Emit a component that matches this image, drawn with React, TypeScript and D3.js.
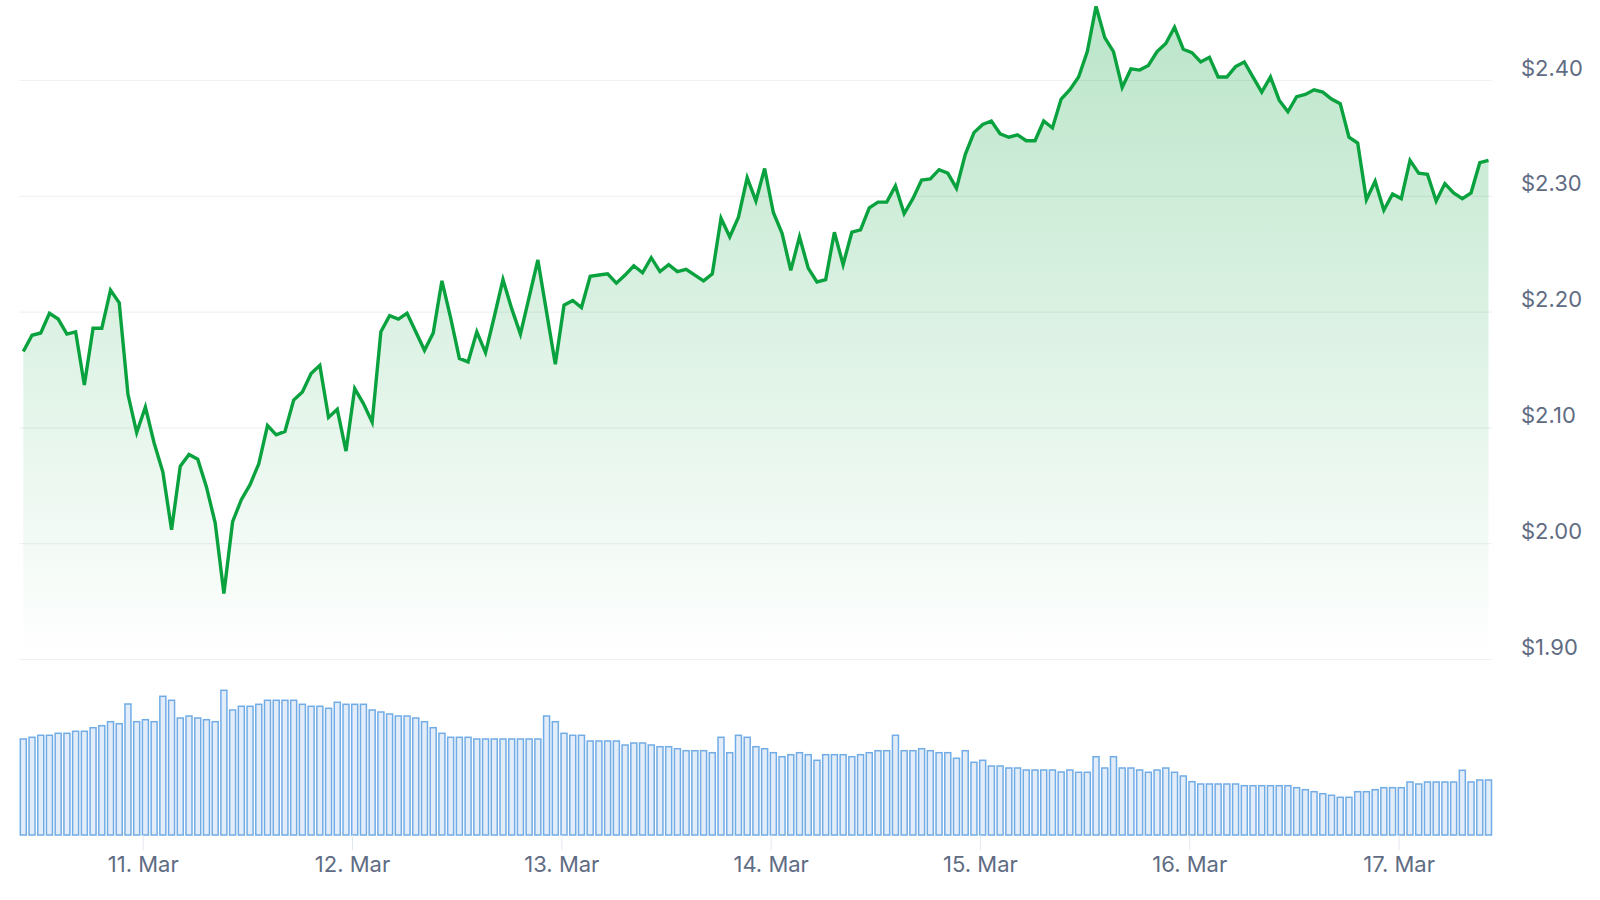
import React from "react";
import * as d3 from "d3";

// Hourly price (USD), starting 10 Mar 10:15 UTC
const prices: number[] = [
  2.166, 2.18, 2.182, 2.199, 2.194, 2.181, 2.183, 2.137, 2.186, 2.186,
  2.219, 2.208, 2.129, 2.096, 2.118, 2.087, 2.062, 2.012, 2.067, 2.077,
  2.073, 2.049, 2.018, 1.957, 2.019, 2.038, 2.051, 2.069, 2.102, 2.094,
  2.097, 2.124, 2.131, 2.147, 2.154, 2.109, 2.116, 2.08, 2.134, 2.121,
  2.105, 2.183, 2.197, 2.194, 2.199, 2.183, 2.167, 2.182, 2.227, 2.195,
  2.16, 2.157, 2.183, 2.165, 2.196, 2.228, 2.203, 2.181, 2.213, 2.245,
  2.2, 2.155, 2.206, 2.21, 2.204, 2.231, 2.232, 2.233, 2.225, 2.232,
  2.24, 2.234, 2.247, 2.235, 2.241, 2.235, 2.237, 2.232, 2.227, 2.233,
  2.281, 2.265, 2.282, 2.316, 2.296, 2.324, 2.286, 2.268, 2.236, 2.265,
  2.238, 2.226, 2.228, 2.269, 2.241, 2.269, 2.271, 2.29, 2.295, 2.295,
  2.309, 2.285, 2.298, 2.314, 2.315, 2.323, 2.32, 2.307, 2.336, 2.355,
  2.362, 2.365, 2.354, 2.351, 2.353, 2.348, 2.348, 2.365, 2.359, 2.384,
  2.392, 2.403, 2.425, 2.464, 2.437, 2.425, 2.394, 2.41, 2.409, 2.413,
  2.425, 2.432, 2.446, 2.427, 2.424, 2.416, 2.42, 2.403, 2.403, 2.412,
  2.416, 2.403, 2.39, 2.403, 2.383, 2.373, 2.386, 2.388, 2.392, 2.39,
  2.384, 2.38, 2.351, 2.346, 2.297, 2.313, 2.288, 2.302, 2.298, 2.331,
  2.32, 2.319, 2.296, 2.311, 2.303, 2.298, 2.303, 2.329, 2.331,
];

// Hourly volume (relative units)
const volumes: number[] = [
  96, 97.7, 99.7, 99.7, 101.7, 101.7, 103.7, 103.7, 107.3, 109.3,
  113.3, 111.3, 131, 113.3, 115.3, 113.3, 138.7, 134.7, 117, 119,
  117, 115.3, 113.3, 144.7, 125, 128.7, 128.7, 130.7, 134.7, 134.7,
  134.7, 134.7, 130.7, 128.7, 128.7, 126.7, 132.7, 130.7, 130.7, 130.7,
  125, 123, 121, 119, 119, 117, 113.3, 107.3, 101.7, 97.7,
  97.7, 97.7, 96, 96, 96, 96, 96, 96, 96, 96,
  119, 113.3, 101.7, 99.7, 99.7, 94, 94, 94, 94, 90,
  92, 92, 90, 88.3, 88.3, 86.3, 84.3, 84.3, 84.3, 82.3,
  97.7, 82.3, 99.7, 97.7, 88.3, 86.3, 82.3, 78.3, 80.3, 82.3,
  80.3, 74.7, 80.3, 80.3, 80.3, 78.3, 80.3, 82.3, 84.3, 84.3,
  99.7, 84.3, 84.3, 86.3, 84.3, 82.3, 82.3, 76.7, 84.3, 72.7,
  74.7, 69, 69, 67, 67, 65, 65, 65, 65, 63,
  65, 62.7, 62.7, 78.3, 67, 78.3, 67, 67, 65, 62.7,
  65, 67, 62.7, 59, 53.3, 51, 51, 51, 51, 51,
  49.3, 49.3, 49.3, 49.3, 49.3, 49.3, 47.3, 45.3, 43.3, 41.3,
  39.7, 37.7, 37.7, 43.3, 43.3, 45.3, 47.3, 47.3, 47.3, 53,
  51, 53, 53, 53, 53, 64.7, 53, 55, 55,
];

const priceTicks: number[] = [1.9, 2.0, 2.1, 2.2, 2.3, 2.4];
const START = Date.UTC(2025, 2, 10, 10, 15);
const HOUR = 3600 * 1000;

const W = 1600;
const H = 900;
const LINE = "#0aa23e";
const LABEL = "#5f6c83";
const FONT = "Inter, 'Noto Sans', sans-serif";

export default function App() {
  const times = prices.map((_, i) => new Date(START + i * HOUR));
  const x = d3
    .scaleUtc()
    .domain([times[0], times[times.length - 1]])
    .range([23.3, 1488.5]);
  const y = d3.scaleLinear().domain([1.9, 2.4]).range([659.5, 80.5]);
  const vBase = 835;
  const yv = d3.scaleLinear().domain([0, 150]).range([vBase, vBase - 150]);

  const line = d3
    .line<number>()
    .x((_, i) => x(times[i]))
    .y((d) => y(d));
  const area = d3
    .area<number>()
    .x((_, i) => x(times[i]))
    .y0(y(1.9))
    .y1((d) => y(d));

  const dayTicks = d3.utcDay.range(
    d3.utcDay.ceil(times[0]),
    times[times.length - 1]
  );
  const fmtDay = d3.utcFormat("%-d. %b");
  const fmtPrice = d3.format("$.2f");
  const yMax = y(d3.max(prices) as number);

  return (
    <svg
      width={W}
      height={H}
      style={{ position: "absolute", left: 0, top: 0, background: "#fff" }}
    >
      <defs>
        <linearGradient
          id="fillGrad"
          gradientUnits="userSpaceOnUse"
          x1="0"
          y1={yMax}
          x2="0"
          y2={y(1.9)}
        >
          <stop offset="0" stopColor={LINE} stopOpacity={0.28} />
          <stop offset="1" stopColor={LINE} stopOpacity={0} />
        </linearGradient>
      </defs>

      {priceTicks.map((t) => (
        <line
          key={"g" + t}
          x1={19}
          x2={1492}
          y1={y(t)}
          y2={y(t)}
          stroke="#eff1f4"
          strokeWidth={1.2}
        />
      ))}

      <path d={area(prices) || ""} fill="url(#fillGrad)" />
      <path
        d={line(prices) || ""}
        fill="none"
        stroke={LINE}
        strokeWidth={3.4}
      />

      {priceTicks.map((t) => (
        <text
          key={"l" + t}
          x={1521}
          y={y(t) - 5}
          fill={LABEL}
          fontFamily={FONT}
          fontSize={22}
        >
          {fmtPrice(t)}
        </text>
      ))}

      {volumes.map((v, i) => {
        const cx = x(times[i]);
        const top = yv(v);
        return (
          <rect
            key={"v" + i}
            x={cx - 3}
            y={top}
            width={6}
            height={vBase - top}
            fill="#e2edf9"
            stroke="#72ace6"
            strokeWidth={1.5}
          />
        );
      })}

      {dayTicks.map((d) => (
        <g key={"t" + d.getTime()} transform={`translate(${x(d)},0)`}>
          <line y1={vBase} y2={850} stroke="#e3e8ef" strokeWidth={1} />
          <text
            y={872}
            textAnchor="middle"
            fill={LABEL}
            fontFamily={FONT}
            fontSize={22}
          >
            {fmtDay(d)}
          </text>
        </g>
      ))}
    </svg>
  );
}
